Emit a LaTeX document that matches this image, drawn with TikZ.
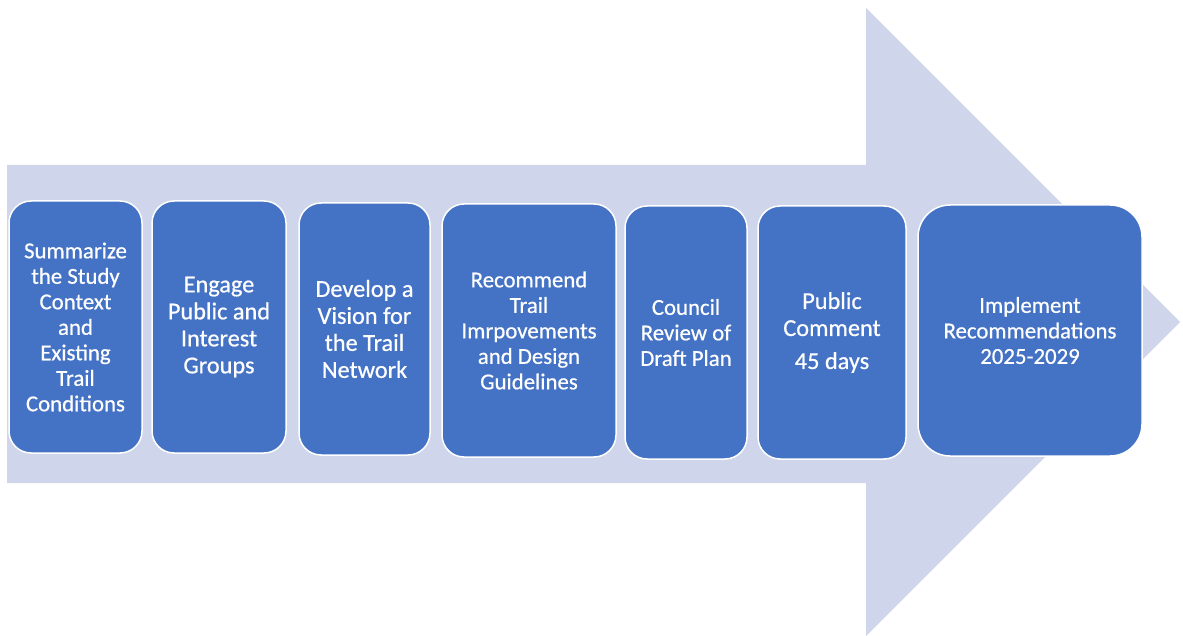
\documentclass[tikz,border=0pt]{standalone}
\usepackage{fontspec}
\setmainfont{Carlito}[FakeBold=0.6]
\begin{document}
\begin{tikzpicture}[x=1pt,y=-1pt,
  stepbox/.style={draw=white, line width=1.5pt, fill=stepblue, rounded corners=22pt,
    text=white, align=center, inner sep=0pt},
  txtA/.style={font=\fontsize{22.8}{25.5}\selectfont},
  txtB/.style={font=\fontsize{24.3}{27}\selectfont}]
\definecolor{stepblue}{HTML}{4472C4}
\definecolor{arrowfill}{HTML}{CFD5EA}
\useasboundingbox (0,0) rectangle (1183,636);
% background process arrow
\fill[arrowfill] (7,165) -- (866,165) -- (866,8) -- (1180,322) -- (866,636)
  -- (866,483) -- (7,483) -- cycle;
% process steps
\node[stepbox, txtA, minimum width=133pt, minimum height=252pt] (s1) at (75.5,327)
  {Summarize\\the Study\\Context\\and\\Existing\\Trail\\Conditions};
\node[stepbox, txtB, minimum width=134pt, minimum height=252pt] (s2) at (219,327)
  {Engage\\Public and\\Interest\\Groups};
\node[stepbox, txtB, minimum width=131pt, minimum height=252pt] (s3) at (364.5,329)
  {Develop a\\Vision for\\the Trail\\Network};
\node[stepbox, txtA, minimum width=174pt, minimum height=253pt] (s4) at (529,330.5)
  {Recommend\\Trail\\Imrpovements\\and Design\\Guidelines};
\node[stepbox, txtA, minimum width=122pt, minimum height=253pt] (s5) at (686,332.5)
  {Council\\Review of\\Draft Plan};
\node[stepbox, txtB, minimum width=148pt, minimum height=253pt] (s6) at (832,332.5)
  {Public\\Comment\\[6pt]45 days};
\node[stepbox, txtA, rounded corners=32pt, minimum width=224pt, minimum height=251pt] (s7) at (1030,330.5)
  {Implement\\Recommendations\\2025-2029};
\end{tikzpicture}
\end{document}
